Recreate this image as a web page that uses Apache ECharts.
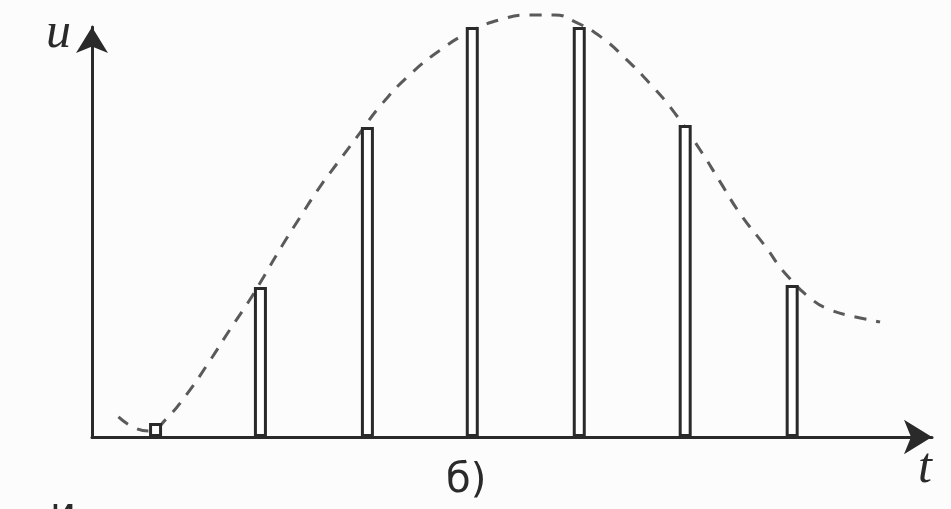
<!DOCTYPE html>
<html>
<head>
<meta charset="utf-8">
<script src="https://cdn.jsdelivr.net/npm/echarts@6/dist/echarts.min.js"></script>
<style>
  html, body { margin: 0; padding: 0; background: #fcfcfc; }
  #chart { width: 951px; height: 509px; }
</style>
</head>
<body>
<div id="chart"></div>
<script>
// Sampled signal: narrow sample pulses under a dashed continuous envelope.
// Sample instants (t) and pulse heights (u), read off the picture.
const sampleT = [0.6, 1.59, 2.6, 3.59, 4.6, 5.6, 6.61];
const sampleU = [3.5, 37.4, 77.3, 102.2, 102.2, 77.8, 37.9];

// Envelope u(t), points.
const envT = [0.25, 0.41, 0.55, 0.7, 0.89, 1.1, 1.3, 1.49, 1.62, 1.8, 1.96, 2.15, 2.34, 2.53, 2.72, 3.0, 3.29, 3.57,
  3.85, 4.14, 4.37, 4.56, 4.8, 5.03, 5.27, 5.5, 5.74, 5.93, 6.12, 6.36, 6.54, 6.8, 6.97, 7.16, 7.44];
const envU = [5.0, 2.2, 1.5, 4.5, 10.5, 18.5, 26.7, 34.2, 39.9, 47.9, 54.6, 62.3, 69.1, 75.8, 82.5, 90.3, 96.5, 101.0,
  104.0, 105.2, 105.2, 103.5, 99.8, 94.5, 88.0, 80.8, 71.6, 63.6, 55.6, 47.4, 40.9, 34.2, 31.7, 30.2, 28.7];

const axisName = { y: 'u', x: 't' };
const caption = 'б)';

const INK = '#2a2a2a';

const chart = echarts.init(document.getElementById('chart'));

const hiddenAxisBits = {
  axisTick: { show: false },
  axisLabel: { show: false },
  splitLine: { show: false },
};

// arrow tips sit exactly on the axis ends, so the grid runs up to them
chart.setOption({
  animation: false,
  backgroundColor: '#fcfcfc',
  grid: { left: 92, right: 19, top: 27, bottom: 72 },
  xAxis: {
    type: 'value',
    min: 0,
    max: 7.93,
    axisLine: {
      onZero: false,
      symbol: ['none', 'arrow'],
      symbolSize: [26, 28],
      lineStyle: { color: INK, width: 3 },
    },
    ...hiddenAxisBits,
  },
  yAxis: {
    type: 'value',
    min: 0,
    max: 102.2,
    axisLine: {
      show: true,
      symbol: ['none', 'arrow'],
      symbolSize: [24, 26],
      lineStyle: { color: INK, width: 3 },
    },
    ...hiddenAxisBits,
  },
  graphic: [
    { type: 'text', left: 46, top: 9, style: { text: axisName.y, font: 'italic 50px "Liberation Serif", serif', fill: INK } },
    { type: 'text', left: 918, top: 444, style: { text: axisName.x, font: 'italic 50px "Liberation Serif", serif', fill: INK } },
    { type: 'text', left: 446, top: 462, style: { text: caption, font: '40px "DejaVu Sans", sans-serif', fill: INK } },
    // top of the next caption line, cut off by the frame
    { type: 'text', left: 50, top: 496, style: { text: 'и', font: '40px "DejaVu Sans", sans-serif', fill: INK } },
  ],
  series: [
    {
      type: 'line',
      data: envT.map((t, i) => [t, envU[i]]),
      smooth: 0.5,
      symbol: 'none',
      clip: false,
      lineStyle: { color: '#5a5a5a', width: 3, type: [12, 10] },
      z: 1,
    },
    {
      type: 'bar',
      data: sampleT.map((t, i) => [t, sampleU[i]]),
      barWidth: 13,
      clip: false,
      itemStyle: { color: '#ffffff', borderColor: INK, borderWidth: 3 },
      z: 3,
    },
  ],
});
</script>
</body>
</html>
